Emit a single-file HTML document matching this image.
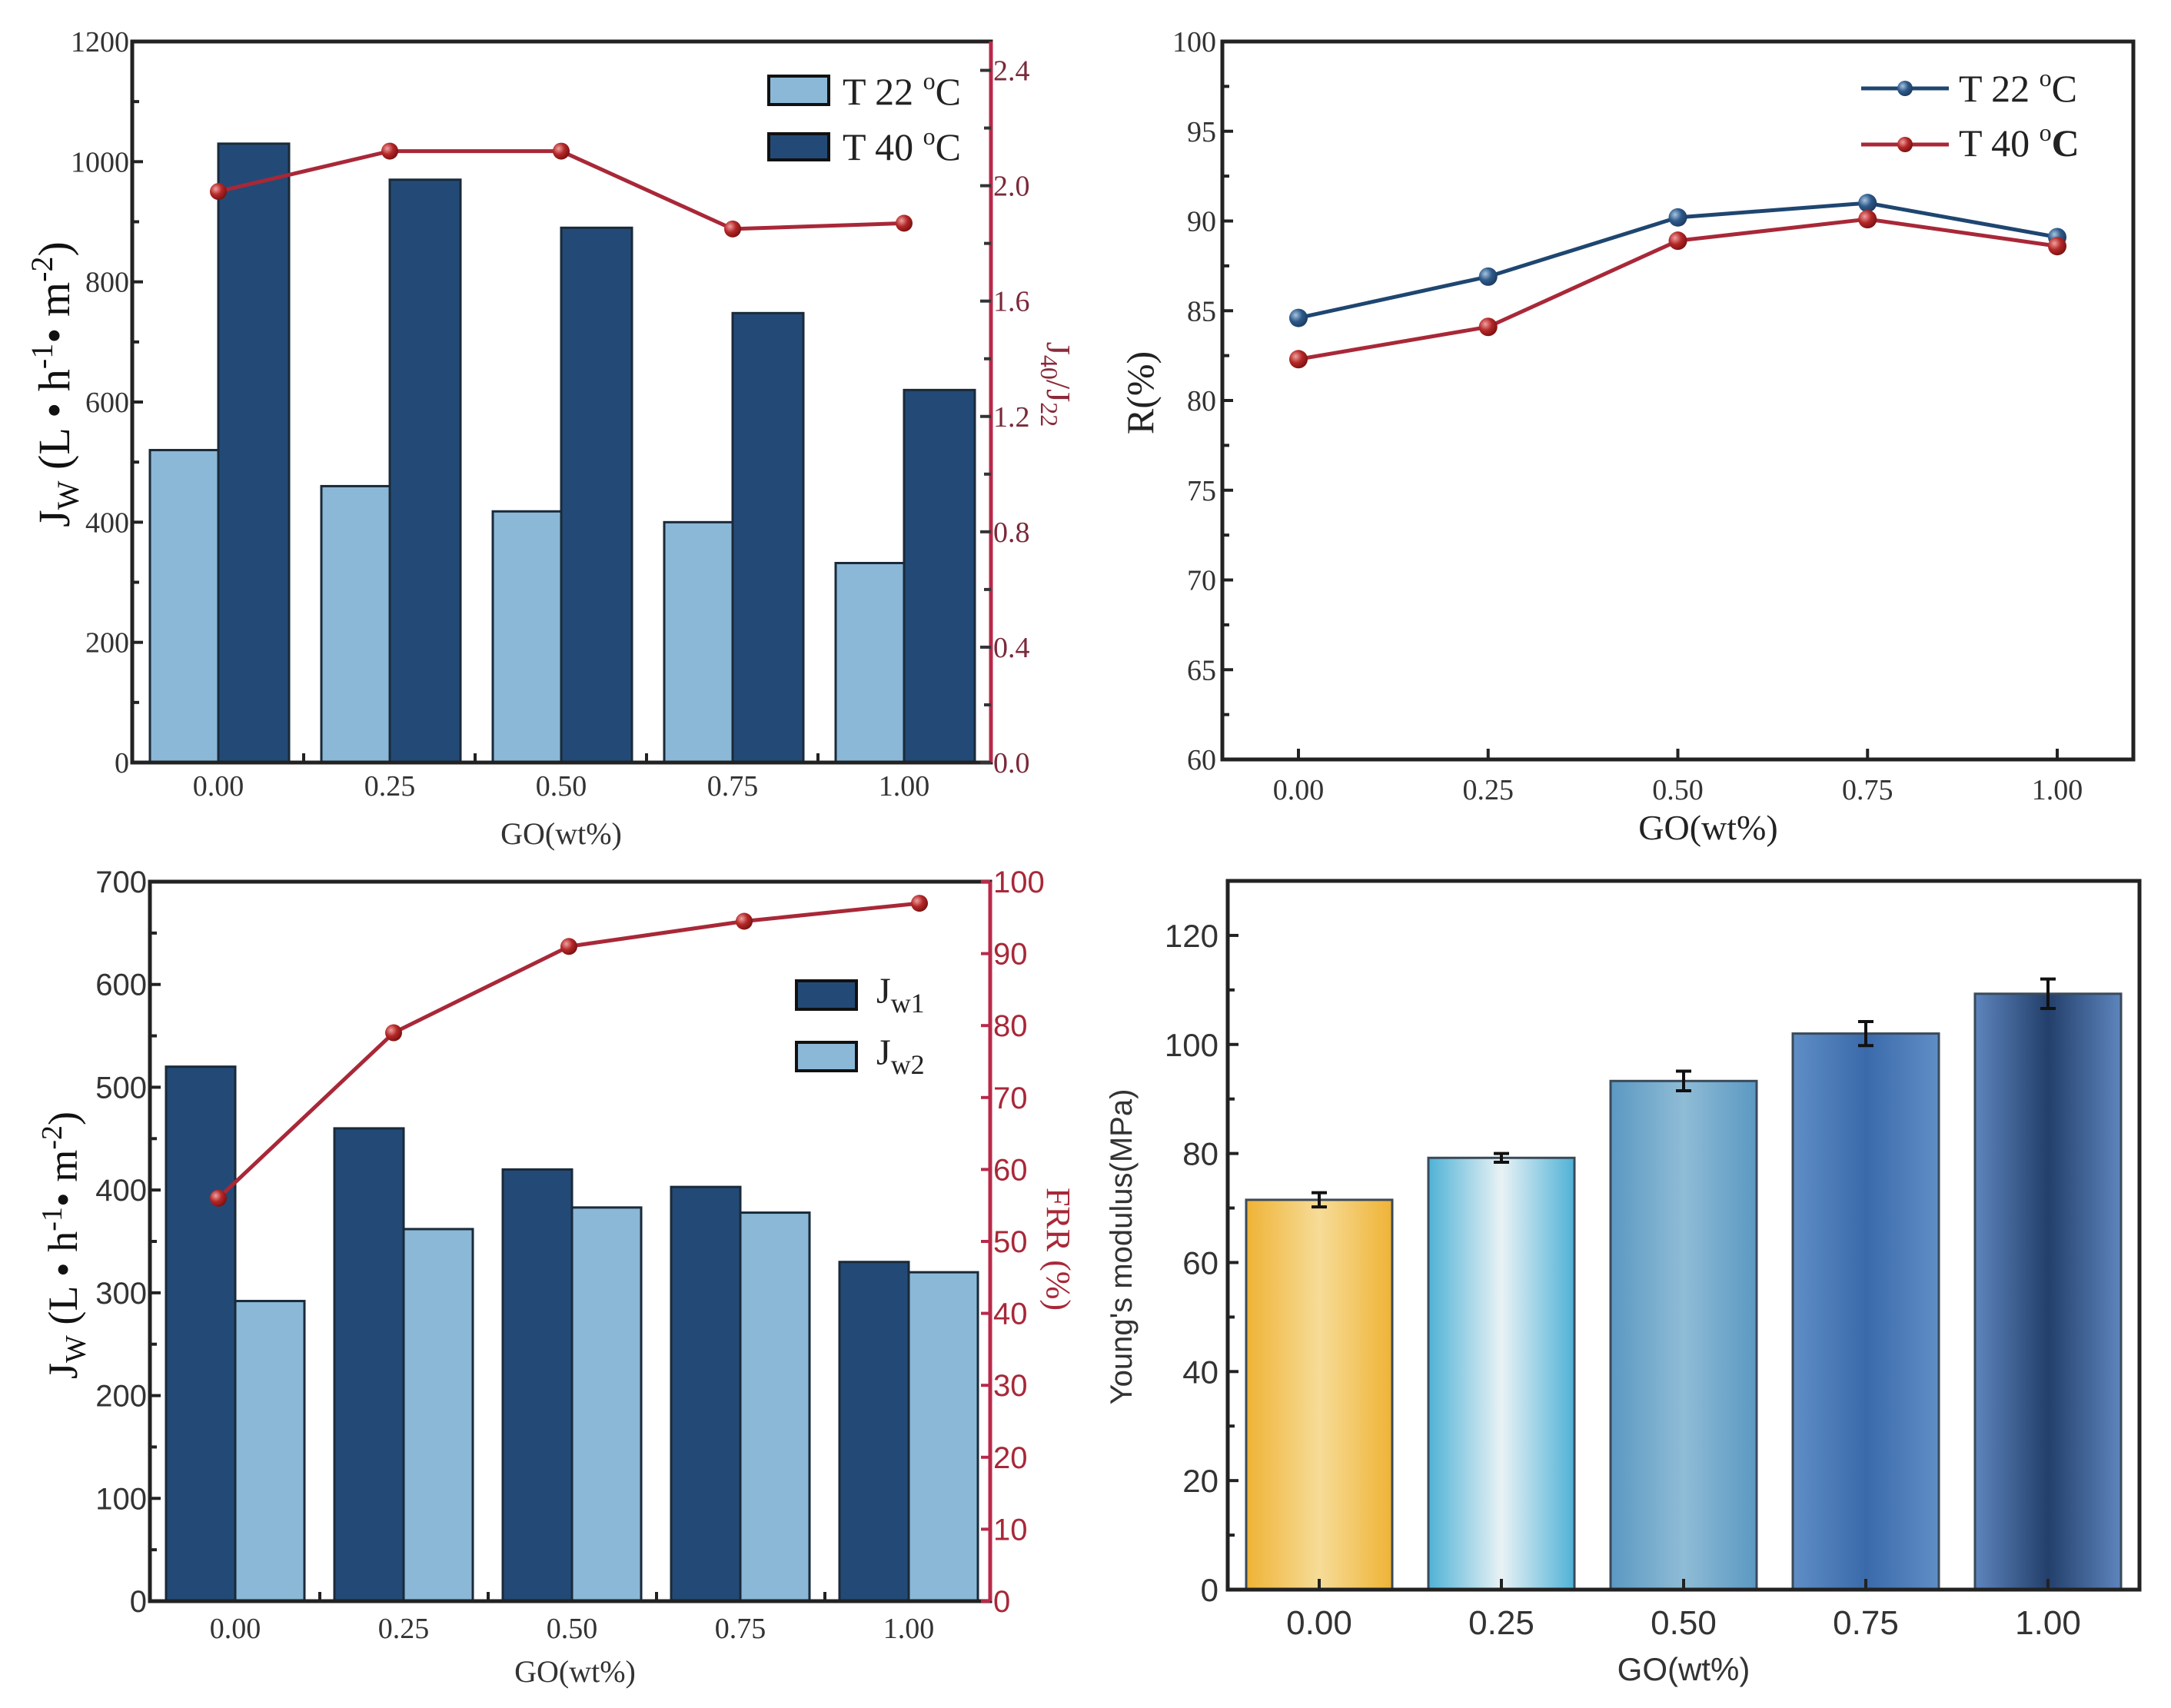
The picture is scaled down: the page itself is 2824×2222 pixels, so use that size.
<!DOCTYPE html>
<html><head><meta charset="utf-8"><style>
html,body{margin:0;padding:0;background:#fff;}
svg{display:block;}
.serif{font-family:"Liberation Serif",serif;}
.sans{font-family:"Liberation Sans",sans-serif;}
</style></head><body>
<svg id="fig" width="2824" height="2222" viewBox="0 0 2824 2222" xmlns="http://www.w3.org/2000/svg">
<defs>
<linearGradient id="g0" x1="0" x2="1" y1="0" y2="0"><stop offset="0" stop-color="#efb335"/><stop offset="0.5" stop-color="#f6dc98"/><stop offset="1" stop-color="#efb335"/></linearGradient>
<linearGradient id="g1" x1="0" x2="1" y1="0" y2="0"><stop offset="0" stop-color="#4fb2d6"/><stop offset="0.5" stop-color="#e9f2f5"/><stop offset="1" stop-color="#4fb2d6"/></linearGradient>
<linearGradient id="g2" x1="0" x2="1" y1="0" y2="0"><stop offset="0" stop-color="#5b98c2"/><stop offset="0.5" stop-color="#8fbcd6"/><stop offset="1" stop-color="#5b98c2"/></linearGradient>
<linearGradient id="g3" x1="0" x2="1" y1="0" y2="0"><stop offset="0" stop-color="#5f8ec6"/><stop offset="0.5" stop-color="#3a6aaa"/><stop offset="1" stop-color="#5f8ec6"/></linearGradient>
<linearGradient id="g4" x1="0" x2="1" y1="0" y2="0"><stop offset="0" stop-color="#5d85bd"/><stop offset="0.5" stop-color="#233f6b"/><stop offset="1" stop-color="#5d85bd"/></linearGradient>
<radialGradient id="mb" cx="0.35" cy="0.35" r="0.7"><stop offset="0" stop-color="#a8c4e0"/><stop offset="0.5" stop-color="#2e5a8a"/><stop offset="1" stop-color="#1c3a60"/></radialGradient>
<radialGradient id="mr" cx="0.35" cy="0.35" r="0.7"><stop offset="0" stop-color="#f0a0a0"/><stop offset="0.5" stop-color="#b42828"/><stop offset="1" stop-color="#7a1010"/></radialGradient>
</defs>
</svg>
<script>
// ---------- data ----------
const cats = ["0.00","0.25","0.50","0.75","1.00"];
// panel A
const fluxT22 = [520,460,418,400,332];
const fluxT40 = [1030,970,890,748,620];
const ratioJ = [1.98,2.12,2.12,1.85,1.87];
const ticksA = [0,200,400,600,800,1000,1200];
const ticksAR = ["0.0","0.4","0.8","1.2","1.6","2.0","2.4"];
// panel B
const rejT22 = [84.6,86.9,90.2,91.0,89.1];
const rejT40 = [82.3,84.1,88.9,90.1,88.6];
const ticksB = [60,65,70,75,80,85,90,95,100];
// panel C
const jw1 = [520,460,420,403,330];
const jw2 = [292,362,383,378,320];
const frr = [56,79,91,94.5,97];
const ticksC = [0,100,200,300,400,500,600,700];
const ticksCR = [0,10,20,30,40,50,60,70,80,90,100];
// panel D
const modulus = [71.5,79.2,93.3,102,109.3];
const modErr = [1.3,0.8,1.8,2.2,2.7];
const ticksD = [0,20,40,60,80,100,120];

const NS="http://www.w3.org/2000/svg";
const svg=document.getElementById('fig');
function mk(tag,attrs,parent,txt){const e=document.createElementNS(NS,tag);for(const k in attrs)e.setAttribute(k,attrs[k]);if(txt!==undefined)e.textContent=txt;(parent||svg).appendChild(e);return e;}
function grp(name){const g=mk('g',{});return g;}
function lin(d0,d1,r0,r1){return v=>r0+(v-d0)/(d1-d0)*(r1-r0);}

// ================= Panel A =================
(function(){
const g=grp('panel-flux-temperature');
const L=172,R=1289,T=54,B=992;
const y=lin(0,1200,B,T), yr=lin(0,2.5,B,T);
const cx=i=>284+i*223;
for(let i=0;i<cats.length;i++){
  const b1=mk('rect',{x:cx(i)-89,y:y(fluxT22[i]),width:89,height:B-y(fluxT22[i]),fill:'#8bb8d6',stroke:'#1a2a3a','stroke-width':3},g);
  
  const b2=mk('rect',{x:cx(i),y:y(fluxT40[i]),width:92,height:B-y(fluxT40[i]),fill:'#234a76',stroke:'#1a2a3a','stroke-width':3},g);
  
}
mk('rect',{x:L,y:T,width:R-L,height:B-T,fill:'none',stroke:'#222','stroke-width':5},g);
mk('line',{x1:R,y1:T,x2:R,y2:B,stroke:'#b8294a','stroke-width':5},g);
ticksA.forEach(v=>{mk('line',{x1:L,y1:y(v),x2:L+14,y2:y(v),stroke:'#222','stroke-width':4},g);
  const t=mk('text',{x:L-4,y:y(v)+13,'text-anchor':'end','font-size':38,fill:'#333',class:'serif'},g,v);
  });
for(let v=100;v<1200;v+=200)mk('line',{x1:L,y1:y(v),x2:L+9,y2:y(v),stroke:'#222','stroke-width':4},g);
ticksAR.forEach(s=>{const v=+s;mk('line',{x1:R,y1:yr(v),x2:R-14,y2:yr(v),stroke:'#333','stroke-width':4},g);
  const t=mk('text',{x:R+3,y:yr(v)+13,'font-size':38,fill:'#7a2a3a',class:'serif'},g,s);
  });
for(let v=0.2;v<2.5;v+=0.4)mk('line',{x1:R,y1:yr(v),x2:R-9,y2:yr(v),stroke:'#333','stroke-width':4},g);
for(let i=0;i<4;i++)mk('line',{x1:cx(i)+111,y1:B,x2:cx(i)+111,y2:B-12,stroke:'#222','stroke-width':4},g);
cats.forEach((c,i)=>{const t=mk('text',{x:cx(i),y:1035,'text-anchor':'middle','font-size':38,fill:'#333',class:'serif'},g,c);
  });
let pts=ratioJ.map((v,i)=>cx(i)+','+yr(v)).join(' ');
const pl=mk('polyline',{points:pts,fill:'none',stroke:'#a82838','stroke-width':5},g);

ratioJ.forEach((v,i)=>{const c=mk('circle',{cx:cx(i),cy:yr(v),r:11,fill:'url(#mr)'},g);
  });
const xt=mk('text',{x:730,y:1098,'text-anchor':'middle','font-size':40,fill:'#333',class:'serif'},g,'GO(wt%)');

const yt=mk('text',{transform:'translate(90,500) rotate(-90)','text-anchor':'middle','font-size':58,fill:'#111',class:'serif'},g);

yt.innerHTML='J<tspan font-size="40" dy="12">W</tspan><tspan dy="-12"> (L • h</tspan><tspan font-size="40" dy="-22">-1</tspan><tspan dy="22">• m</tspan><tspan font-size="40" dy="-22">-2</tspan><tspan dy="22">)</tspan>';
const ry=mk('text',{transform:'translate(1362,500) rotate(90)','text-anchor':'middle','font-size':44,fill:'#8a2a3a',class:'serif'},g);

ry.innerHTML='J<tspan font-size="32" dy="8">40</tspan><tspan dy="-8">/J</tspan><tspan font-size="32" dy="8">22</tspan>';
const lg=grp('legend');g.appendChild(lg);
mk('rect',{x:1000,y:99,width:78,height:37,fill:'#8bb8d6',stroke:'#111','stroke-width':4},lg);
mk('rect',{x:1000,y:174,width:78,height:34,fill:'#234a76',stroke:'#111','stroke-width':4},lg);
mk('text',{x:1096,y:136,'font-size':50,fill:'#222',class:'serif'},lg).innerHTML='T 22 <tspan font-size="32" dy="-20">o</tspan><tspan dy="20">C</tspan>';
mk('text',{x:1096,y:208,'font-size':50,fill:'#222',class:'serif'},lg).innerHTML='T 40 <tspan font-size="32" dy="-20">o</tspan><tspan dy="20">C</tspan>';
})();

// ================= Panel B =================
(function(){
const g=grp('panel-rejection');
const L=1590,R=2775,T=54,B=988;
const y=lin(60,100,B,T);
const x=i=>1689+i*246.75;
mk('rect',{x:L,y:T,width:R-L,height:B-T,fill:'none',stroke:'#222','stroke-width':5},g);
ticksB.forEach(v=>{mk('line',{x1:L,y1:y(v),x2:L+14,y2:y(v),stroke:'#222','stroke-width':4},g);
  const t=mk('text',{x:L-8,y:y(v)+13,'text-anchor':'end','font-size':38,fill:'#333',class:'serif'},g,v);
  });
for(let v=62.5;v<100;v+=5)mk('line',{x1:L,y1:y(v),x2:L+9,y2:y(v),stroke:'#222','stroke-width':4},g);
cats.forEach((c,i)=>{mk('line',{x1:x(i),y1:B,x2:x(i),y2:B-14,stroke:'#222','stroke-width':4},g);
  const t=mk('text',{x:x(i),y:1040,'text-anchor':'middle','font-size':38,fill:'#333',class:'serif'},g,c);
  });
[[rejT22,'#1e4670','url(#mb)','t22'],[rejT40,'#a82838','url(#mr)','t40']].forEach(s=>{
  const pl=mk('polyline',{points:s[0].map((v,i)=>x(i)+','+y(v)).join(' '),fill:'none',stroke:s[1],'stroke-width':5},g);
  
  s[0].forEach((v,i)=>{const c=mk('circle',{cx:x(i),cy:y(v),r:12,fill:s[2]},g);
    });
});
const xt=mk('text',{x:2222,y:1092,'text-anchor':'middle','font-size':46,fill:'#222',class:'serif'},g,'GO(wt%)');

const yt=mk('text',{transform:'translate(1500,511) rotate(-90)','text-anchor':'middle','font-size':50,fill:'#222',class:'serif'},g,'R(%)');

const lg=grp('legend');g.appendChild(lg);
mk('line',{x1:2421,y1:115,x2:2535,y2:115,stroke:'#1e4670','stroke-width':5},lg);
mk('circle',{cx:2478,cy:115,r:10,fill:'url(#mb)'},lg);
mk('line',{x1:2421,y1:188,x2:2535,y2:188,stroke:'#a82838','stroke-width':5},lg);
mk('circle',{cx:2478,cy:188,r:10,fill:'url(#mr)'},lg);
mk('text',{x:2548,y:132,'font-size':50,fill:'#222',class:'serif'},lg).innerHTML='T 22 <tspan font-size="32" dy="-20">o</tspan><tspan dy="20">C</tspan>';
mk('text',{x:2548,y:203,'font-size':50,fill:'#222',class:'serif'},lg).innerHTML='T 40 <tspan font-size="32" dy="-20">o</tspan><tspan dy="20" font-weight="bold">C</tspan>';
})();

// ================= Panel C =================
(function(){
const g=grp('panel-flux-recovery');
const L=195,R=1288,T=1147,B=2083;
const y=lin(0,700,B,T), yr=lin(0,100,B,T);
const cx=i=>306+i*219;
for(let i=0;i<cats.length;i++){
  const b1=mk('rect',{x:cx(i)-90,y:y(jw1[i]),width:90,height:B-y(jw1[i]),fill:'#234a76',stroke:'#1a2a3a','stroke-width':3},g);
  
  const b2=mk('rect',{x:cx(i),y:y(jw2[i]),width:90,height:B-y(jw2[i]),fill:'#8bb8d6',stroke:'#1a2a3a','stroke-width':3},g);
  
}
mk('rect',{x:L,y:T,width:R-L,height:B-T,fill:'none',stroke:'#222','stroke-width':5},g);
mk('line',{x1:R,y1:T,x2:R,y2:B,stroke:'#b8294a','stroke-width':5},g);
ticksC.forEach(v=>{mk('line',{x1:L,y1:y(v),x2:L+14,y2:y(v),stroke:'#222','stroke-width':4},g);
  const t=mk('text',{x:L-4,y:y(v)+14,'text-anchor':'end','font-size':40,fill:'#333',class:'sans'},g,v);
  });
for(let v=50;v<700;v+=100)mk('line',{x1:L,y1:y(v),x2:L+9,y2:y(v),stroke:'#222','stroke-width':4},g);
ticksCR.forEach(v=>{mk('line',{x1:R,y1:yr(v),x2:R-12,y2:yr(v),stroke:'#b8294a','stroke-width':4},g);
  const t=mk('text',{x:R+4,y:yr(v)+14,'font-size':40,fill:'#a82838',class:'sans'},g,v);
  });
for(let i=0;i<4;i++)mk('line',{x1:cx(i)+110,y1:B,x2:cx(i)+110,y2:B-12,stroke:'#222','stroke-width':4},g);
cats.forEach((c,i)=>{const t=mk('text',{x:cx(i),y:2131,'text-anchor':'middle','font-size':38,fill:'#333',class:'serif'},g,c);
  });
const fx=i=>284+i*228;
const pl=mk('polyline',{points:frr.map((v,i)=>fx(i)+','+yr(v)).join(' '),fill:'none',stroke:'#a82838','stroke-width':5},g);

frr.forEach((v,i)=>{const c=mk('circle',{cx:fx(i),cy:yr(v),r:11,fill:'url(#mr)'},g);
  });
const xt=mk('text',{x:748,y:2188,'text-anchor':'middle','font-size':40,fill:'#333',class:'serif'},g,'GO(wt%)');

const yt=mk('text',{transform:'translate(100,1620) rotate(-90)','text-anchor':'middle','font-size':54,fill:'#111',class:'serif'},g);

yt.innerHTML='J<tspan font-size="38" dy="11">W</tspan><tspan dy="-11"> (L • h</tspan><tspan font-size="38" dy="-20">-1</tspan><tspan dy="20">• m</tspan><tspan font-size="38" dy="-20">-2</tspan><tspan dy="20">)</tspan>';
const ry=mk('text',{transform:'translate(1362,1625) rotate(90)','text-anchor':'middle','font-size':44,fill:'#a82838',class:'serif'},g,'FRR (%)');

const lg=grp('legend');g.appendChild(lg);
mk('rect',{x:1036,y:1276,width:78,height:37,fill:'#234a76',stroke:'#111','stroke-width':4},lg);
mk('rect',{x:1036,y:1356,width:78,height:37,fill:'#8bb8d6',stroke:'#111','stroke-width':4},lg);
mk('text',{x:1140,y:1305,'font-size':48,fill:'#222',class:'serif'},lg).innerHTML='J<tspan font-size="36" dy="12">w1</tspan>';
mk('text',{x:1140,y:1385,'font-size':48,fill:'#222',class:'serif'},lg).innerHTML='J<tspan font-size="36" dy="12">w2</tspan>';
})();

// ================= Panel D =================
(function(){
const g=grp('panel-youngs-modulus');
const L=1597,R=2783,T=1146,B=2068;
const y=lin(0,130,B,T);
const cx=i=>1716+i*237;
for(let i=0;i<cats.length;i++){
  const b=mk('rect',{x:cx(i)-95,y:y(modulus[i]),width:190,height:B-y(modulus[i]),fill:'url(#g'+i+')',stroke:'#3a4a5a','stroke-width':3},g);
  
  const e0=y(modulus[i]-modErr[i]),e1=y(modulus[i]+modErr[i]);
  const eb=mk('path',{d:`M${cx(i)},${e0}V${e1}M${cx(i)-10},${e0}H${cx(i)+10}M${cx(i)-10},${e1}H${cx(i)+10}`,stroke:'#111','stroke-width':4,fill:'none'},g);
  
}
mk('rect',{x:L,y:T,width:R-L,height:B-T,fill:'none',stroke:'#222','stroke-width':5},g);
ticksD.forEach(v=>{mk('line',{x1:L,y1:y(v),x2:L+14,y2:y(v),stroke:'#222','stroke-width':4},g);
  const t=mk('text',{x:L-12,y:y(v)+15,'text-anchor':'end','font-size':42,fill:'#333',class:'sans'},g,v);
  });
for(let v=10;v<130;v+=20)mk('line',{x1:L,y1:y(v),x2:L+9,y2:y(v),stroke:'#222','stroke-width':4},g);
cats.forEach((c,i)=>{mk('line',{x1:cx(i),y1:B,x2:cx(i),y2:B-14,stroke:'#222','stroke-width':4},g);
  const t=mk('text',{x:cx(i),y:2126,'text-anchor':'middle','font-size':44,fill:'#333',class:'sans'},g,c);
  });
const xt=mk('text',{x:2190,y:2186,'text-anchor':'middle','font-size':42,fill:'#333',class:'sans'},g,'GO(wt%)');

const yt=mk('text',{transform:'translate(1472,1622) rotate(-90)','text-anchor':'middle','font-size':40,fill:'#333',class:'sans'},g,"Young's modulus(MPa)");

})();
</script>
</body></html>
